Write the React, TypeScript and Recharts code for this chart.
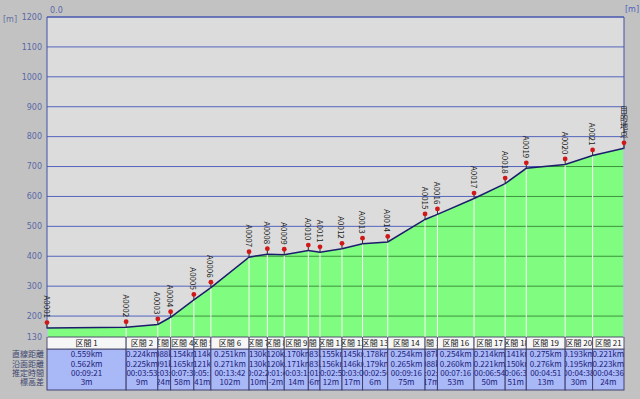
import React from "react";
import { ComposedChart, Area, XAxis, YAxis, CartesianGrid, ReferenceArea } from "recharts";

const pointNames = ["A0001","A0002","A0003","A0004","A0005","A0006","A0007","A0008","A0009","A0010","A0011","A0012","A0013","A0014","A0015","A0016","A0017","A0018","A0019","A0020","A0021","目的地点"];
const elevations = [160,163,172,196,254,295,397,407,405,419,413,425,442,448,523,540,593,643,694,707,737,761];

const sectionNames = ["区間 1","区間 2","区間 3","区間 4","区間 5","区間 6","区間 7","区間 8","区間 9","区間 10","区間 11","区間 12","区間 13","区間 14","区間 15","区間 16","区間 17","区間 18","区間 19","区間 20","区間 21"];
const straightDist = ["0.559km","0.224km","0.088km","0.154km","0.114km","0.251km","0.130km","0.120km","0.170km","0.083km","0.155km","0.145km","0.178km","0.254km","0.087km","0.254km","0.214km","0.141km","0.275km","0.193km","0.221km"];
const surfaceDist = [0.562,0.225,0.091,0.165,0.121,0.271,0.130,0.120,0.171,0.083,0.156,0.146,0.179,0.265,0.088,0.260,0.221,0.150,0.276,0.195,0.223];
const estTimes = ["00:09:21","00:03:53","00:03:12","00:07:34","00:05:19","00:13:42","00:02:24","00:01:49","00:03:15","00:01:13","00:02:55","00:03:00","00:02:56","00:09:16","00:02:20","00:07:16","00:06:54","00:06:36","00:04:51","00:04:38","00:04:36"];
const elevDiffs = ["3m","9m","24m","58m","41m","102m","10m","-2m","14m","-6m","12m","17m","6m","75m","17m","53m","50m","51m","13m","30m","24m"];
const rowLabels = ["直線距離","沿面距離","推定時間","標高差"];
const yTicks = [130,200,300,400,500,600,700,800,900,1000,1100,1200];
const xTicks = [0];

const Y_MIN = 130;
const Y_MAX = 1200;
const W = 640;
const H = 399;
const MARGIN = { top: 16, right: 0, bottom: 62, left: 0 };
const X_AXIS_H = 1;
const PLOT_TOP = MARGIN.top + X_AXIS_H;
const PLOT_H = H - PLOT_TOP - MARGIN.bottom;
const PLOT_BOTTOM = PLOT_TOP + PLOT_H;
const GRID_STEP = (PLOT_H * 100) / (Y_MAX - Y_MIN);

const cum: number[] = surfaceDist.reduce((acc: number[], d) => { acc.push(acc[acc.length - 1] + d); return acc; }, [0]);
const total = cum[cum.length - 1];
const data = pointNames.map((name, i) => ({ name, dist: cum[i], elev: elevations[i] }));
const sections = sectionNames.map((name, i) => ({ name, x1: cum[i], x2: cum[i + 1], straight: straightDist[i], surface: surfaceDist[i].toFixed(3) + "km", time: estTimes[i], diff: elevDiffs[i] }));

const JP = "'Noto Sans CJK JP', 'Noto Sans', sans-serif";

const Marker = (props: any) => {
  const { cx, cy, index, payload } = props;
  if (cx == null || cy == null || !payload) return <g key={"m" + index} />;
  return (
    <g key={"m" + index}>
      <line x1={cx} y1={cy + 1} x2={cx} y2={PLOT_BOTTOM} stroke="#f8f8f8" strokeWidth={1} />
      <line x1={cx} y1={cy} x2={cx} y2={cy - 6} stroke="#303030" strokeWidth={1} />
      <circle cx={cx} cy={cy - 5.5} r={2.4} fill="#d01818" />
      <text x={cx} y={cy - 10} textAnchor="end" fontSize={8} fill="#181818" fontFamily={JP} style={{ writingMode: "vertical-rl" } as any}>{payload.name}</text>
    </g>
  );
};

const ROW_Y = [20, 29.5, 39, 48];

const makeCell = (i: number) => (props: any) => {
  const s = sections[i];
  const { x, y, width } = props;
  const top = y;
  const id = "cellclip" + i;
  const cx = x + width / 2;
  return (
    <g>
      <defs>
        <clipPath id={id}><rect x={x} y={top} width={width} height={53} /></clipPath>
      </defs>
      <rect x={x} y={top + 12} width={width} height={41} fill="#a9b8f6" stroke="#404070" strokeWidth={1} />
      <rect x={x} y={top} width={width} height={12} fill="#f6f6f6" stroke="#505070" strokeWidth={1} />
      <g clipPath={`url(#${id})`} fontFamily={JP} fontSize={8}>
        <text x={cx} y={top + 9} textAnchor="middle" fill="#202020">{s.name}</text>
        <text x={cx} y={top + ROW_Y[0]} textAnchor="middle" fill="#20207a">{s.straight}</text>
        <text x={cx} y={top + ROW_Y[1]} textAnchor="middle" fill="#20207a">{s.surface}</text>
        <text x={cx} y={top + ROW_Y[2]} textAnchor="middle" fill="#20207a">{s.time}</text>
        <text x={cx} y={top + ROW_Y[3]} textAnchor="middle" fill="#20207a">{s.diff}</text>
      </g>
      {i === 0 && (
        <g fontFamily={JP} fontSize={8} fill="#3a4470">
          {rowLabels.map((l, k) => (
            <text key={l} x={x - 3} y={top + ROW_Y[k]} textAnchor="end">{l}</text>
          ))}
        </g>
      )}
    </g>
  );
};

const XTick = (props: any) => {
  const { x, payload } = props;
  return <text x={x + 3} y={PLOT_TOP - 4} fontSize={8} fill="#5a68a8" fontFamily="'DejaVu Sans', sans-serif">{Number(payload.value).toFixed(1)}</text>;
};

export default function App() {
  return (
    <div style={{ position: "absolute", left: 0, top: 0, width: W, height: H, background: "#c2c2c2" }}>
      <ComposedChart width={W} height={H} data={data} margin={MARGIN}>
        <defs>
          <pattern id="areaFill" patternUnits="userSpaceOnUse" x={0} y={PLOT_TOP - 0.5} width={W} height={GRID_STEP}>
            <rect x={0} y={0} width={W} height={GRID_STEP} fill="#80fc80" />
            <rect x={0} y={0} width={W} height={1} fill="#3a943a" />
          </pattern>
        </defs>
        <CartesianGrid yAxisId="l" vertical={false} stroke="#5464bc" strokeOpacity={1} fill="#dcdcdc" fillOpacity={1} />
        <XAxis dataKey="dist" type="number" domain={[0, total]} orientation="top" ticks={xTicks} height={X_AXIS_H} tick={<XTick />} tickLine={false} axisLine={{ stroke: "#4050a8" }} />
        <YAxis yAxisId="l" domain={[Y_MIN, Y_MAX]} ticks={yTicks} interval={0} width={47} tickLine={false} tickSize={3} tickMargin={2} axisLine={{ stroke: "#4050a8" }} tick={{ fontSize: 8, fill: "#5a68a8", fontFamily: "'DejaVu Sans', sans-serif" }}
          label={(p: any) => <text x={3} y={PLOT_TOP + 5} fontSize={8} fill="#6070a0" fontFamily="'DejaVu Sans', sans-serif">[m]</text>} />
        <YAxis yAxisId="r" orientation="right" domain={[Y_MIN, Y_MAX]} ticks={yTicks} width={16} tick={false} tickLine={false} axisLine={{ stroke: "#4050a8" }}
          label={(p: any) => <text x={W - 15} y={PLOT_TOP - 5} fontSize={8} fill="#5060c0" fontFamily="'DejaVu Sans', sans-serif">[m]</text>} />
        <Area yAxisId="l" type="linear" dataKey="elev" stroke="#1c1c6c" strokeWidth={1.5} fill="url(#areaFill)" fillOpacity={1} isAnimationActive={false} dot={<Marker clipDot={false} />} activeDot={false} />
        {sections.map((s, i) => (
          <ReferenceArea key={s.name} yAxisId="l" x1={s.x1} x2={s.x2} y1={Y_MIN - 40} y2={Y_MIN} ifOverflow="visible" shape={makeCell(i)} />
        ))}
      </ComposedChart>
    </div>
  );
}
